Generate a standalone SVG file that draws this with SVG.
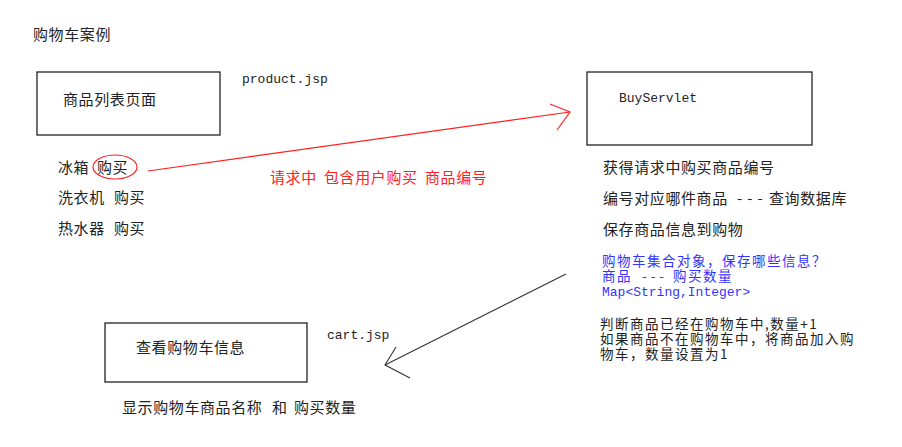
<svg xmlns="http://www.w3.org/2000/svg" width="902" height="447" viewBox="0 0 902 447">
<style>
.t{font-family:"Noto Sans CJK SC","Noto Sans",sans-serif;font-size:15px;letter-spacing:0.6px;fill:#222}
.s{font-size:13.5px;letter-spacing:1.5px}
.m{font-family:"Liberation Mono","DejaVu Sans Mono",monospace;font-size:13px;fill:#222}
.b{fill:#3333ff}
.r{fill:#ff2020}
.box{fill:#fff;stroke:#222;stroke-width:1.3}
</style>
<rect width="902" height="447" fill="#fff"/>
<text class="t" x="33" y="40">购物车案例</text>
<g id="product">
<rect class="box" x="37" y="72" width="183" height="63"/>
<text class="t" x="63" y="105">商品列表页面</text>
<text class="m" x="242" y="83">product.jsp</text>
<text class="t" x="58" y="173">冰箱<tspan x="97">购买</tspan></text>
<text class="t" x="58" y="203">洗衣机<tspan x="114">购买</tspan></text>
<text class="t" x="58" y="234">热水器<tspan x="114">购买</tspan></text>
<ellipse cx="115" cy="167" rx="22" ry="12" fill="none" stroke="#ff2020" stroke-width="1.2"/>
</g>
<g id="buyservlet">
<rect class="box" x="587" y="72" width="225" height="73"/>
<text class="m" x="619" y="102">BuyServlet</text>
<text class="t" x="603" y="173">获得请求中购买商品编号</text>
<text class="t" x="603" y="204">编号对应哪件商品<tspan x="737" letter-spacing="5">---</tspan><tspan x="769">查询数据库</tspan></text>
<text class="t" x="603" y="235">保存商品信息到购物</text>
<text class="t s b" x="602" y="266">购物车集合对象，保存哪些信息？</text>
<text class="t s b" x="602" y="281">商品<tspan x="642" letter-spacing="4">---</tspan><tspan x="673">购买数量</tspan></text>
<text class="m b" x="602" y="296">Map&lt;String,Integer&gt;</text>
<text class="t s" x="600" y="329">判断商品已经在购物车中,数量+1</text>
<text class="t s" x="600" y="344">如果商品不在购物车中，将商品加入购</text>
<text class="t s" x="600" y="359">物车，数量设置为1</text>
</g>
<g id="cart">
<rect class="box" x="105" y="323" width="202" height="59"/>
<text class="t" x="136" y="353">查看购物车信息</text>
<text class="m" x="327" y="339">cart.jsp</text>
<text class="t" x="122" y="413">显示购物车商品名称<tspan x="272">和</tspan><tspan x="294">购买数量</tspan></text>
</g>
<g id="connectors" fill="none">
<polyline points="148,171 570,112" stroke="#ff2020" stroke-width="1.2"/>
<polyline points="550,104 570,112 557,130" stroke="#ff2020" stroke-width="1.2"/>
<text class="t r" x="270" y="183">请求中<tspan x="324">包含用户购买</tspan><tspan x="425">商品编号</tspan></text>
<polyline points="566,274 385,365" stroke="#333" stroke-width="1.1"/>
<polyline points="396,347 385,365 410,378" stroke="#333" stroke-width="1.1"/>
</g>
</svg>
